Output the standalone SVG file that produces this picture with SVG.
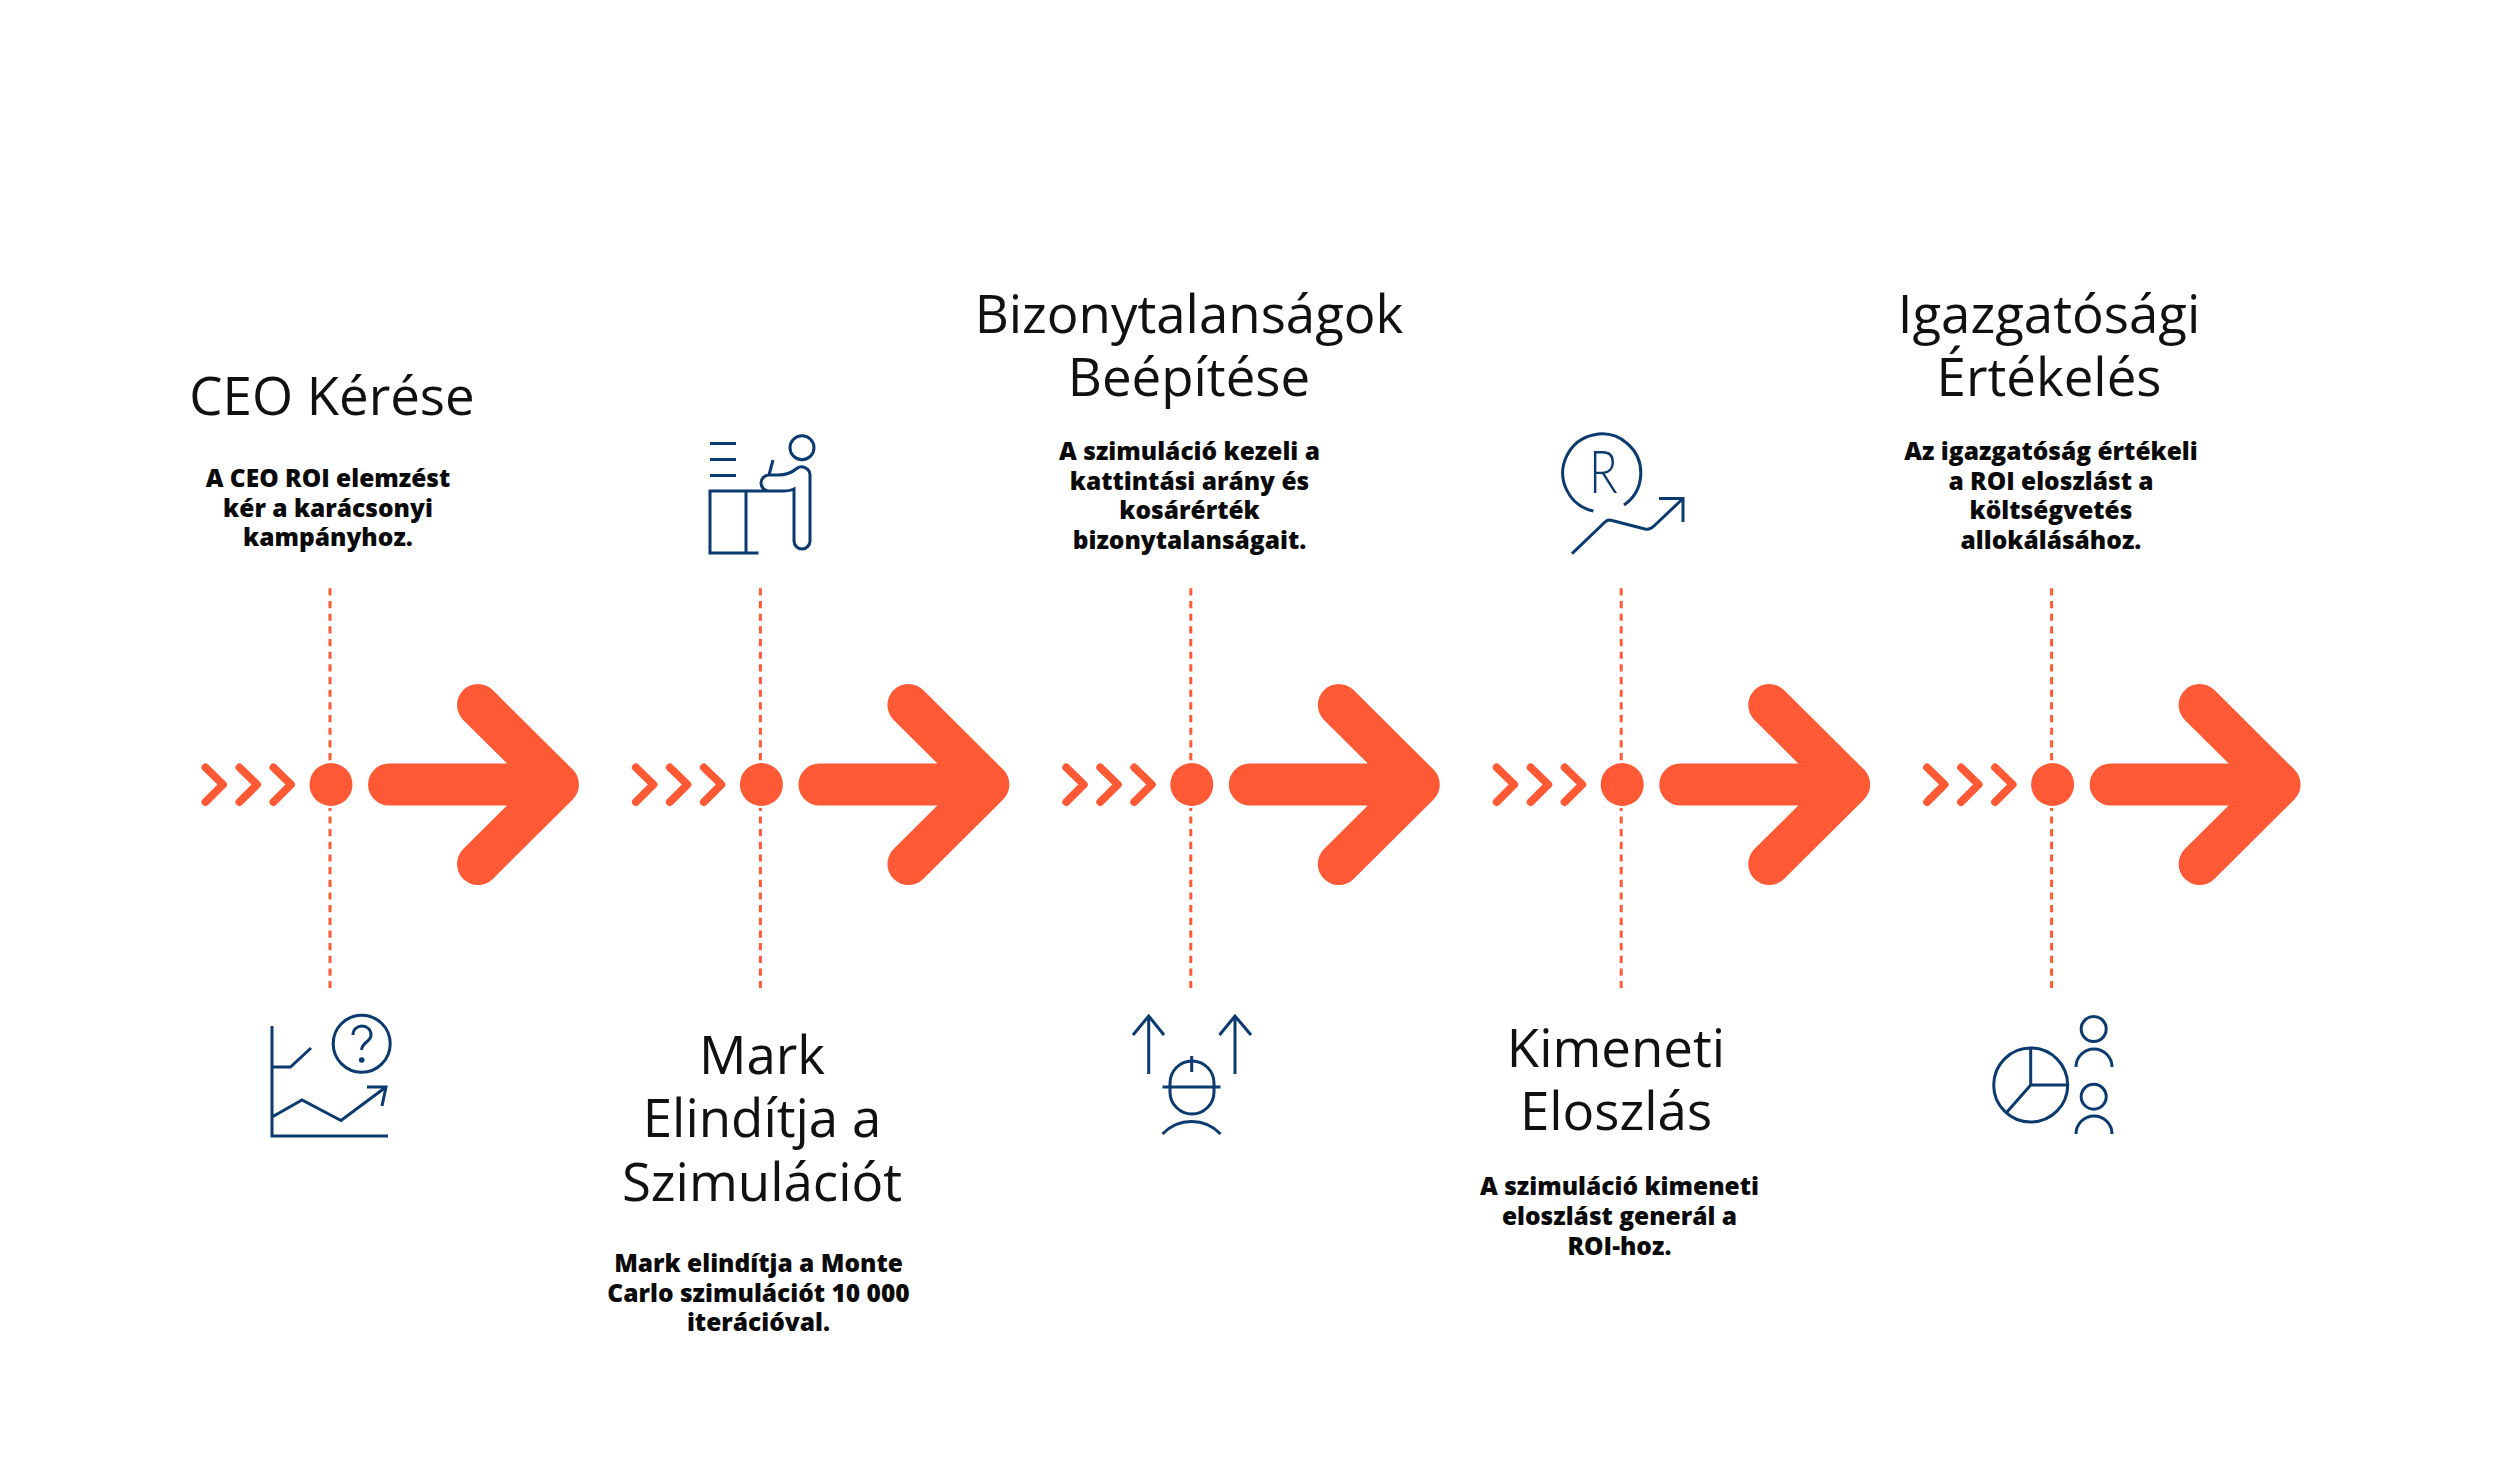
<svg xmlns="http://www.w3.org/2000/svg" width="2500" height="1469" viewBox="0 0 2500 1469">
<style>
.t{font-family:"Open Sans","Noto Sans",sans-serif;font-size:52.8px;fill:#111;text-anchor:middle}
.d{font-family:"Open Sans","Noto Sans",sans-serif;font-size:24.5px;font-weight:800;fill:#0a0a0a;text-anchor:middle}
.i{fill:none;stroke:#0b3a6f;stroke-width:3}
.a{fill:none;stroke:#ff5a35;stroke-linecap:round;stroke-linejoin:round}
.dash{fill:none;stroke:#ff5a35;stroke-width:3;stroke-dasharray:7.2 5.47}
</style>
<defs>
<g id="flow">
<path class="a" stroke-width="8" d="M205.500 767.500L223 784.500L205.500 802M239.500 767.500L257 784.500L239.500 802M273.500 767.500L291 784.500L273.500 802"/>
<circle cx="331" cy="784.500" r="21.500" fill="#ff5a35"/>
<path class="a" stroke-width="42" d="M389 784.500H558M478 705L558 784.500L478 864"/>
</g>
<path id="dl" class="dash" d="M330 588.300V760.500M330 808V811M330 816.400V988"/>
</defs>
<rect width="2500" height="1469" fill="#fff"/>
<g id="connectors">
<use href="#dl"/>
<use href="#dl" x="430.400"/>
<use href="#dl" x="860.800"/>
<use href="#dl" x="1291.200"/>
<use href="#dl" x="1721.600"/>
<use href="#flow"/>
<use href="#flow" x="430.400"/>
<use href="#flow" x="860.800"/>
<use href="#flow" x="1291.200"/>
<use href="#flow" x="1721.600"/>
</g>
<g id="step1">
<text class="t" x="332" y="414.500">CEO Kérése</text>
<text class="d" x="328" y="487">A CEO ROI elemzést</text>
<text class="d" x="328" y="517">kér a karácsonyi</text>
<text class="d" x="328" y="546">kampányhoz.</text>
<g class="i">
<path d="M272 1026V1136H388M272 1067H290.500L311 1048M272 1117L302 1100L341 1120.500L386 1087M367 1087H386L382 1106"/>
<circle cx="361.700" cy="1043.700" r="28.500"/>
<path d="M353 1035C353 1023 371 1023 371 1035C371 1042 362 1042 361.500 1050"/>
</g>
<circle cx="361.700" cy="1060" r="2.800" fill="#0b3a6f"/>
</g>
<g id="step2">
<text class="t" x="762" y="1073.500">Mark</text>
<text class="t" x="762" y="1137">Elindítja a</text>
<text class="t" x="762" y="1200.500">Szimulációt</text>
<text class="d" x="758.500" y="1272">Mark elindítja a Monte</text>
<text class="d" x="758.500" y="1301.500">Carlo szimulációt 10 000</text>
<text class="d" x="758.500" y="1331">iterációval.</text>
<g class="i">
<path d="M710 443.500H736M710 459.500H736M710 475.500H736M758.500 553H710V491H783Q790 491 794 489V541A8 8 0 0 0 810 541V476A8.500 8.500 0 0 0 796 469Q789 475 778 475H769A8 8 0 0 0 769 491H783M746 491V553M773 460L769 475"/>
<circle cx="802" cy="447.700" r="12"/>
</g>
</g>
<g id="step3">
<text class="t" x="1189" y="333">Bizonytalanságok</text>
<text class="t" x="1189" y="396">Beépítése</text>
<text class="d" x="1189.500" y="460">A szimuláció kezeli a</text>
<text class="d" x="1189.500" y="489.500">kattintási arány és</text>
<text class="d" x="1189.500" y="519">kosárérték</text>
<text class="d" x="1189.500" y="548.500">bizonytalanságait.</text>
<g class="i">
<path d="M1148.700 1074V1016M1133 1035L1148.700 1016L1164 1035M1235 1074V1016M1219.500 1035L1235 1016L1251 1035M1191.700 1056V1072M1162.500 1087H1220.500M1162.500 1134A40 40 0 0 1 1220.500 1134"/>
<path d="M1170 1083A22 22 0 0 1 1214 1083V1092A22 22 0 0 1 1170 1092Z"/>
</g>
</g>
<g id="step4">
<text class="t" x="1616" y="1067">Kimeneti</text>
<text class="t" x="1616" y="1130">Eloszlás</text>
<text class="d" x="1619.500" y="1195">A szimuláció kimeneti</text>
<text class="d" x="1619.500" y="1225">eloszlást generál a</text>
<text class="d" x="1619.500" y="1254.500">ROI-hoz.</text>
<g class="i">
<path d="M1593.300 511A39 39 0 1 1 1624 505M1572 553.700L1605 522Q1608 519 1612 520.500L1645 529Q1650 530 1654 526L1683 498.500M1659 498.500H1683V522"/>
</g>
<text transform="translate(1589 493) scale(.8 1)" font-family="Lato,sans-serif" font-weight="300" font-size="59" fill="#0b3a6f">R</text>
</g>
<g id="step5">
<text class="t" x="2049" y="333">Igazgatósági</text>
<text class="t" x="2049" y="396">Értékelés</text>
<text class="d" x="2051" y="460">Az igazgatóság értékeli</text>
<text class="d" x="2051" y="489.500">a ROI eloszlást a</text>
<text class="d" x="2051" y="519">költségvetés</text>
<text class="d" x="2051" y="548.500">allokálásához.</text>
<g class="i">
<circle cx="2030.700" cy="1085" r="37"/>
<path d="M2030.700 1048V1085H2067.500M2030.700 1085L2007 1112M2076 1067A18 18 0 0 1 2112 1067M2076 1134A18 18 0 0 1 2112 1134"/>
<circle cx="2093.700" cy="1029" r="12.500"/>
<circle cx="2093.700" cy="1096.700" r="12.500"/>
</g>
</g>
</svg>
